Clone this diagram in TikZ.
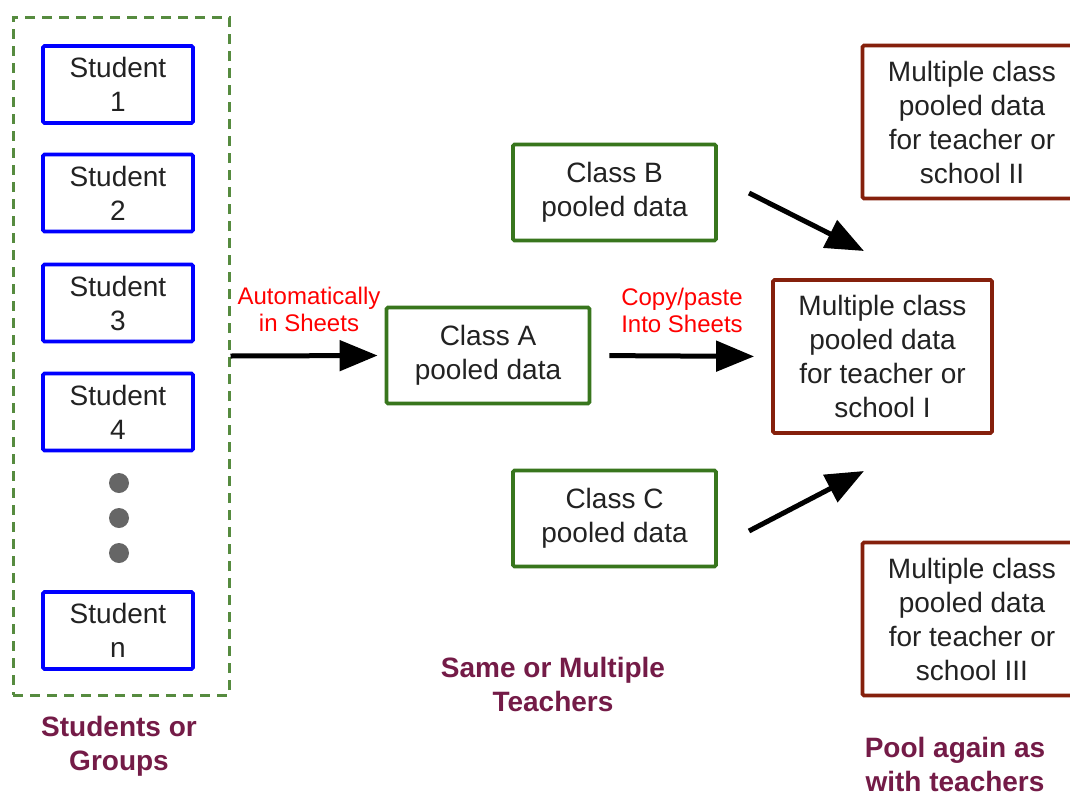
\documentclass[tikz,border=0pt]{standalone}
\usepackage{fontspec}
\setmainfont{Liberation Sans}
\usetikzlibrary{arrows.meta}
\definecolor{stublue}{HTML}{0000FF}
\definecolor{clsgreen}{HTML}{38761D}
\definecolor{schred}{HTML}{85200C}
\definecolor{lblmag}{HTML}{741B47}
\definecolor{txtgray}{HTML}{222222}
\definecolor{dotgray}{HTML}{666666}
\begin{document}
\begin{tikzpicture}[x=1pt,y=-1pt,
  box/.style={draw, line width=3.8pt, rounded corners=1.5pt, align=center, inner sep=0pt, text=txtgray, font=\fontsize{28}{34}\selectfont},
  stubox/.style={box, draw=stublue, minimum width=150pt, minimum height=77pt},
  clsbox/.style={box, draw=clsgreen, minimum width=203pt, minimum height=96pt},
  schbox/.style={box, draw=schred, minimum width=219pt, minimum height=153pt},
  grpbox/.style={draw=clsgreen!85!white, line width=3pt, dash pattern=on 10pt off 7pt, minimum width=216pt, minimum height=678pt, inner sep=0pt},
  conn/.style={line width=5pt, -{Triangle[length=38pt,width=30pt]}},
  redlbl/.style={text=red, align=center, inner sep=0pt, font=\fontsize{24}{27}\selectfont},
  grplbl/.style={text=lblmag, align=center, inner sep=0pt, font=\bfseries\fontsize{28}{34}\selectfont},
  dotnode/.style={circle, fill=dotgray, minimum size=20pt, inner sep=0pt}
]
\useasboundingbox (0,0) rectangle (1070,795);
\clip (0,0) rectangle (1070,795);
\fill[white] (0,0) rectangle (1070,795);

% group of students
\node[grpbox] (grp) at (121,356) {};
\node[stubox] (s1) at (118,84.5) {Student\\1};
\node[stubox] (s2) at (118,193) {Student\\2};
\node[stubox] (s3) at (118,303) {Student\\3};
\node[stubox] (s4) at (118,412) {Student\\4};
\node[dotnode] (d1) at (119,483) {};
\node[dotnode] (d2) at (119,518) {};
\node[dotnode] (d3) at (119,553) {};
\node[stubox] (sn) at (118,630.5) {Student\\n};

% classes
\node[clsbox] (clsA) at (488,355.5) {Class A\\pooled data};
\node[clsbox] (clsB) at (614.5,192.5) {Class B\\pooled data};
\node[clsbox] (clsC) at (614.5,518.5) {Class C\\pooled data};

% schools
\node[schbox] (sch1) at (882.5,356.5) {Multiple class\\pooled data\\for teacher or\\school I};
\node[schbox] (sch2) at (972,122) {Multiple class\\pooled data\\for teacher or\\school II};
\node[schbox] (sch3) at (972,619) {Multiple class\\pooled data\\for teacher or\\school III};

% arrows
\draw[conn, shorten >=7pt] (grp.east) -- (clsA.west);
\draw[conn, shorten <=18pt, shorten >=17pt] (clsA.east) -- (sch1.west);
\coordinate (bTail) at (749,193);
\coordinate (bHead) at (864,251);
\coordinate (cTail) at (749,531);
\coordinate (cHead) at (864,471);
\draw[conn] (bTail) -- (bHead);
\draw[conn] (cTail) -- (cHead);

% labels
\node[redlbl] (lauto) at (309,309) {Automatically\\in Sheets};
\node[redlbl] (lcopy) at (682,310) {Copy/paste\\Into Sheets};
\node[grplbl] (lstud) at (119,746) {Students or\\Groups};
\node[grplbl] (lteach) at (553,684) {Same or Multiple\\Teachers};
\node[grplbl] (lpool) at (955,764) {Pool again as\\with teachers};
\end{tikzpicture}
\end{document}
